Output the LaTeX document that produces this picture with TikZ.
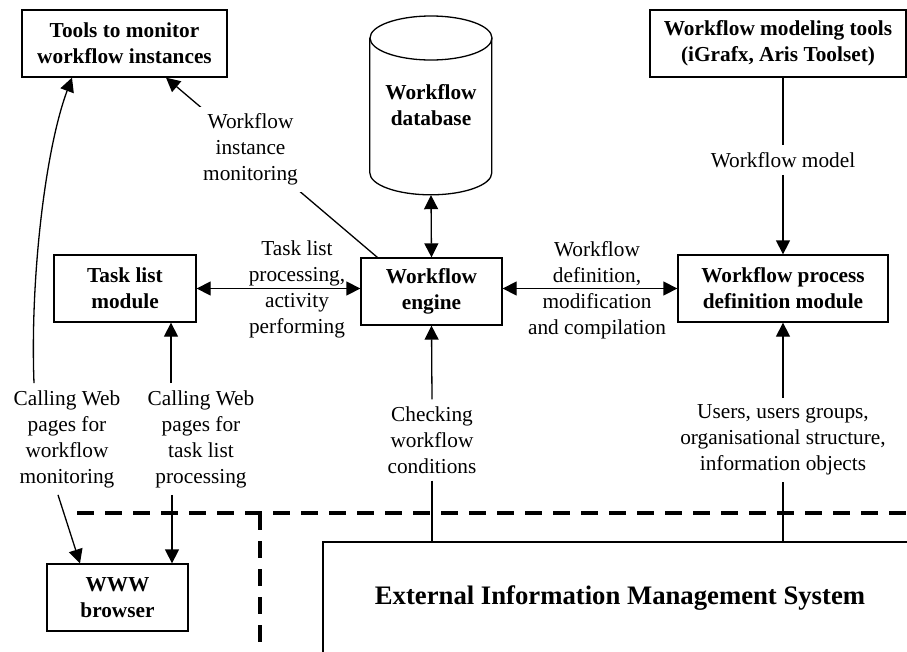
\documentclass[tikz,border=0pt]{standalone}
\usepackage{fontspec}
\setmainfont{Liberation Serif}
\usetikzlibrary{arrows.meta}

\begin{document}
\begin{tikzpicture}[x=1pt,y=-1pt]
\tikzstyle{every node}+=[inner sep=0pt, align=center, font=\fontsize{21.3}{26}\selectfont]
\tikzstyle{box}=[draw, line width=1.3pt, minimum height=67pt, font=\fontsize{21.3}{26}\selectfont\bfseries]
\tikzstyle{lbl}=[inner sep=7pt]
\tikzstyle{link}=[line width=1.3pt]
\tikzstyle{tip}=[-{Triangle[length=14pt,width=14pt]}]
\tikzstyle{tips}=[{Triangle[length=14pt,width=14pt]}-{Triangle[length=14pt,width=14pt]}]
\tikzstyle{border}=[line width=4pt, dash pattern=on 17pt off 11pt]
\useasboundingbox (0,0) rectangle (907,651);
\clip (0,0) rectangle (907,651);
\node [box, minimum width=205pt] (tools) at (124.5,43.5) {Tools to monitor\\workflow instances};
\node [box, minimum width=256pt] (model) at (778,43.5) {Workflow modeling tools\\(iGrafx, Aris Toolset)};
\node [box, minimum width=142pt] (task) at (125,288.5) {Task list\\module};
\node [box, minimum width=141pt] (eng) at (431.5,291.5) {Workflow\\engine};
\node [box, minimum width=210pt] (proc) at (783,288.5) {Workflow process\\definition module};
\node [box, minimum width=141pt] (www) at (117.5,597.5) {WWW\\browser};
\node [minimum width=122pt, minimum height=180pt, font=\fontsize{21.3}{26}\selectfont\bfseries] (db) at (431,105) {Workflow\\database};
\draw [link] (db.north west) ++(0,23) -- ++(0,135) arc [start angle=180, end angle=360, x radius=61pt, y radius=22pt] -- ++(0,-135);
\draw [link] (431,38) ellipse [x radius=61pt, y radius=22pt];
\node [draw, line width=1.3pt, minimum width=677pt, minimum height=178pt] (ext) at (661.5,631) {};
\node [font=\fontsize{26.7}{30}\selectfont\bfseries] (exttxt) at (620,598) {External Information Management System};
\draw [border] (77,513) -- (907,513);
\draw [border] (260,513) -- (260,651);
\node [lbl] (lbltask) at (297,289) {Task list\\processing,\\activity\\performing};
\node [lbl] (lbldef) at (597,290) {Workflow\\definition,\\modification\\and compilation};
\node [lbl] (lblmd) at (783,160) {Workflow model};
\node [lbl] (lblwm) at (67,439) {Calling Web\\pages for\\workflow\\monitoring};
\node [lbl] (lbltl) at (201,439) {Calling Web\\pages for\\task list\\processing};
\node [lbl] (lblck) at (432,440) {Checking\\workflow\\conditions};
\node [lbl] (lblus) at (783,440) {Users, users groups,\\organisational structure,\\information objects};
\draw [link, tip] ([xshift=17pt]eng.north west) -- node [lbl, fill=white, pos=0.6] (lblmon) {Workflow\\instance\\monitoring} ([xshift=41.5pt]tools.south);
\draw [link, tips] (db.south) -- (eng.north);
\draw [link, tips] (task.east) -- (task.east -| eng.west);
\draw [link, tips] (proc.west -| eng.east) -- (proc.west);
\draw [link] (model.south -| proc.north) -- (lblmd.north);
\draw [link, tip] (lblmd.south) -- (proc.north);
\draw [link, tip] (lblck.north) -- (eng.south);
\draw [link] (lblck.south) -- (lblck.south |- ext.north);
\draw [link, tip] (lblus.north) -- (proc.south);
\draw [link] (lblus.south) -- (lblus.south |- ext.north);
\draw [link, tip] ([xshift=-30pt]lbltl.north) -- ([xshift=-30pt]lbltl.north |- task.south);
\draw [link, tip] ([xshift=-29pt]lbltl.south) -- ([xshift=-29pt]lbltl.south |- www.north);
\draw [link, tip] ([xshift=-33pt]lblwm.north) .. controls (30,280) and (45,150) .. ([xshift=-52.5pt]tools.south);
\draw [link, tip] ([xshift=-9pt]lblwm.south) -- ([xshift=-37.5pt]www.north);
\end{tikzpicture}
\end{document}
